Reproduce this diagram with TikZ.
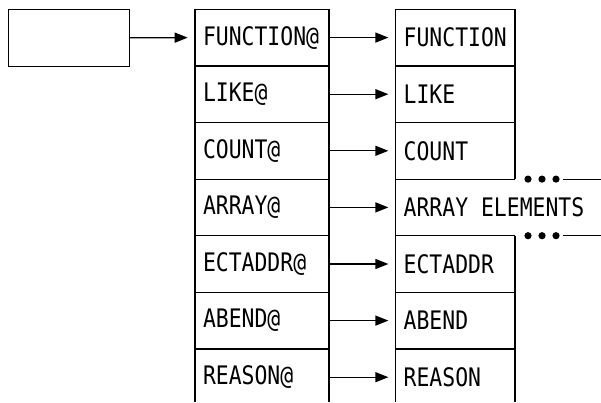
\documentclass[tikz,border=0pt]{standalone}
\usepackage{fontspec}
\newfontfamily\monofont[FakeStretch=0.84]{DejaVu Sans Mono}
\usetikzlibrary{arrows.meta}
\tikzset{
  cell/.style={rectangle, inner sep=0pt, minimum height=56.6pt},
  midcell/.style={cell, minimum width=134pt},
  rcell/.style={cell, minimum width=119.3pt},
  lbl/.style={anchor=west, inner sep=0pt, font=\monofont\fontsize{25.5}{27}\selectfont, text=black},
  arr/.style={-{Triangle[length=13pt,width=10pt]}, shorten >=6.7pt},
  frame/.style={line width=1.2pt, black},
}
\begin{document}
\begin{tikzpicture}[x=1pt,y=-1pt, line width=1.2pt]
\useasboundingbox (0,0) rectangle (601,402);
% source box
\node[draw, line width=1.2pt, minimum width=121pt, minimum height=57pt, inner sep=0pt] (src) at (69,37.8) {};
% geometry cells
\foreach \i in {1,...,7} {
  \node[midcell] (m\i) at (262, {9.3+56.6*(\i-0.5)}) {};
  \node[rcell] (r\i) at (455.35, {9.3+56.6*(\i-0.5)}) {};
}
% middle column frame
\draw[frame] (195,9.3) -- (195,402) (329,9.3) -- (329,402);
\foreach \y in {9.3,65.9,122.5,179.1,235.7,292.3,348.9}
  \draw[frame] (195,\y) -- (329,\y);
% right column frame
\draw[frame] (395.7,9.3) -- (395.7,402);
\draw[frame] (515,9.3) -- (515,179.1) (515,235.7) -- (515,402);
\foreach \y in {9.3,65.9,122.5,179.1,235.7,292.3,348.9}
  \draw[frame] (395.7,\y) -- (515,\y);
% continuation dots
\foreach \y in {179.1,235.7} {
  \foreach \x in {528,542,556} \fill (\x,\y) circle (3.6pt);
  \draw[frame] (563,\y) -- (601,\y);
}
% labels
\node[lbl] (tm1) at ([xshift=8pt]m1.west) {FUNCTION@};
\node[lbl] (tm2) at ([xshift=8pt]m2.west) {LIKE@};
\node[lbl] (tm3) at ([xshift=8pt]m3.west) {COUNT@};
\node[lbl] (tm4) at ([xshift=8pt]m4.west) {ARRAY@};
\node[lbl] (tm5) at ([xshift=8pt]m5.west) {ECTADDR@};
\node[lbl] (tm6) at ([xshift=8pt]m6.west) {ABEND@};
\node[lbl] (tm7) at ([xshift=8pt]m7.west) {REASON@};
\node[lbl] (tr1) at ([xshift=8pt]r1.west) {FUNCTION};
\node[lbl] (tr2) at ([xshift=8pt]r2.west) {LIKE};
\node[lbl] (tr3) at ([xshift=8pt]r3.west) {COUNT};
\node[lbl] (tr4) at ([xshift=8pt]r4.west) {ARRAY ELEMENTS};
\node[lbl] (tr5) at ([xshift=8pt]r5.west) {ECTADDR};
\node[lbl] (tr6) at ([xshift=8pt]r6.west) {ABEND};
\node[lbl] (tr7) at ([xshift=8pt]r7.west) {REASON};
% connectors
\draw[arr] (src.east) -- (m1.west);
\foreach \i in {1,...,7}
  \draw[arr] (m\i.east) -- (r\i.west);
\end{tikzpicture}
\end{document}
